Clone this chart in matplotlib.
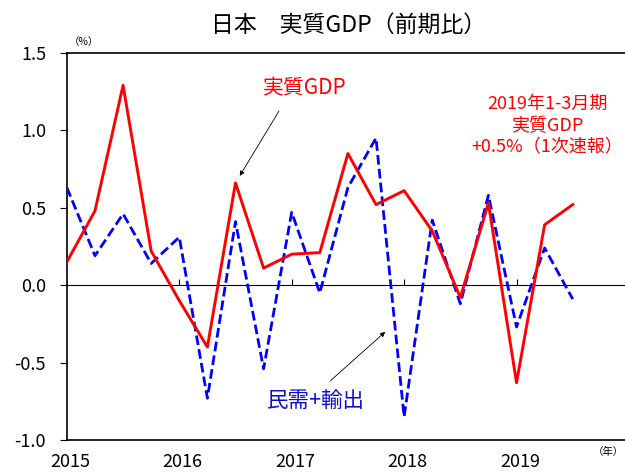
import numpy as np
import matplotlib
matplotlib.use("Agg")
import matplotlib.pyplot as plt

plt.rcParams['font.family'] = ['Noto Sans CJK JP', 'DejaVu Sans']

# quarterly q/q growth (%)
gdp = [0.15, 0.48, 1.29, 0.22, -0.10, -0.40, 0.66, 0.11, 0.20, 0.21,
       0.85, 0.52, 0.61, 0.35, -0.08, 0.53, -0.63, 0.39, 0.52]
demand = [0.63, 0.19, 0.46, 0.14, 0.31, -0.73, 0.41, -0.54, 0.47, -0.05,
          0.63, 0.95, -0.85, 0.42, -0.12, 0.58, -0.27, 0.24, -0.09]
years = ['2015', '2016', '2017', '2018', '2019']
yticks = [-1.0, -0.5, 0.0, 0.5, 1.0, 1.5]

x = np.arange(len(gdp))
year_pos = np.arange(len(years)) * 4

fig = plt.figure(figsize=(6.25, 4.76), dpi=100)
ax = fig.add_axes([0.107, 0.0756, 0.893, 0.8134])

ax.plot(x, demand, color='#0000ff', lw=2.0, ls=(0, (3.5, 1.5)), zorder=3)
ax.plot(x, gdp, color='#ff0000', lw=2.1, zorder=4)
ax.axhline(0, color='k', lw=0.8, zorder=2)
# small year ticks sitting on the zero line
ax.vlines(year_pos[1:], 0, 0.04, color='k', lw=0.8, zorder=2)

ax.set_xlim(0, 19.86)
ax.set_ylim(-1.0, 1.5)
ax.set_yticks(yticks)
ax.set_yticklabels(['%.1f' % v for v in yticks], fontsize=13)
ax.set_xticks(year_pos + 0.12)
ax.set_xticklabels(years, fontsize=13)
ax.tick_params(axis='x', length=0, pad=9)
ax.tick_params(axis='y', length=5, width=0.8, pad=10)
for s in ax.spines.values():
    s.set_linewidth(1.2)
ax.spines['right'].set_visible(False)

fig.text(0.558, 0.947, '日本　実質GDP（前期比）', ha='center', va='center', fontsize=16.5)
fig.text(0.135, 0.912, '（%）', ha='center', va='center', fontsize=7.5)
fig.text(0.998, 0.05, '（年）', ha='right', va='center', fontsize=7.5)

ax.annotate('', xy=(6.1, 0.69), xytext=(7.6, 1.14),
            arrowprops=dict(arrowstyle='-|>', color='k', lw=0.6,
                            mutation_scale=7))
ax.text(8.45, 1.27, '実質GDP', color='#ff0000', fontsize=15,
        ha='center', va='center')

ax.annotate('', xy=(11.4, -0.29), xytext=(9.3, -0.63),
            arrowprops=dict(arrowstyle='-|>', color='k', lw=0.6,
                            mutation_scale=7))
ax.text(8.85, -0.75, '民需+輸出', color='#0d0dd0', fontsize=15.5,
        ha='center', va='center')

ax.text(17.1, 1.03, '2019年1-3月期\n実質GDP\n+0.5%（1次速報）',
        color='#ff0000', fontsize=13, ha='center', va='center',
        linespacing=1.25)

fig.savefig('out.png', dpi=100)
